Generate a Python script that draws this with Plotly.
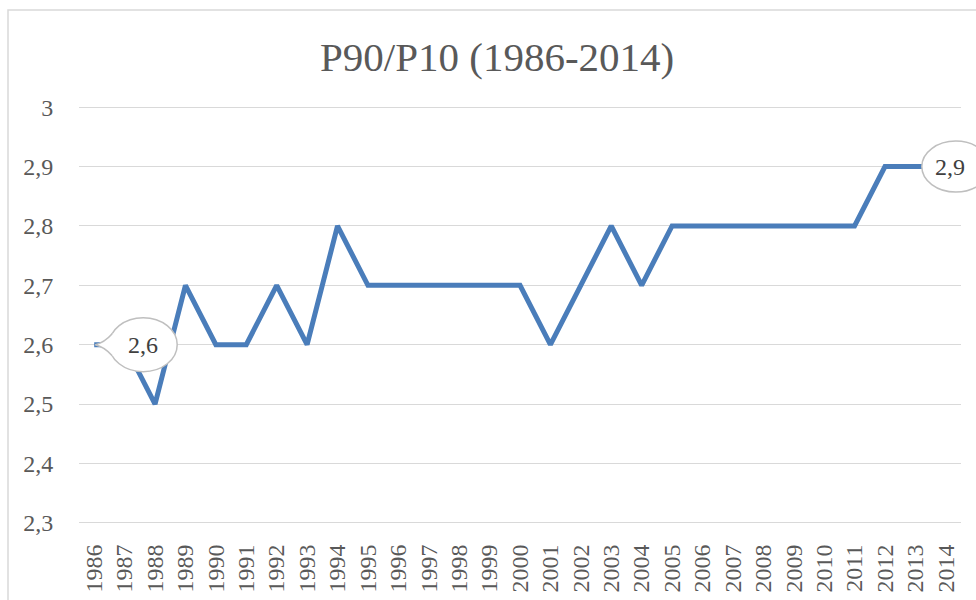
import plotly.graph_objects as go

years = list(range(1986, 2015))
values = [2.6, 2.6, 2.5, 2.7, 2.6, 2.6, 2.7, 2.6, 2.8, 2.7,
          2.7, 2.7, 2.7, 2.7, 2.7, 2.6, 2.7, 2.8, 2.7, 2.8,
          2.8, 2.8, 2.8, 2.8, 2.8, 2.8, 2.9, 2.9, 2.9]
y_ticks = [2.3, 2.4, 2.5, 2.6, 2.7, 2.8, 2.9, 3.0]
y_tick_labels = ["2,3", "2,4", "2,5", "2,6", "2,7", "2,8", "2,9", "3"]
title = "P90/P10 (1986-2014)"

LINE = "#4A7DBA"
GRID = "#D9D9D9"
TXT = "#595959"
FONT = "Liberation Serif, Times New Roman, serif"

x0r, x1r = years[0] - 0.5, years[-1] + 0.5
y0r, y1r = 2.298, 3.002
PT, PB = 106, 76   # plot area top/bottom margins (px)
PL, PR = 79, 15
PH = 600 - PT - PB
PW = 976 - PL - PR


def frac(yr):
    return (yr - x0r) / (x1r - x0r)


fig = go.Figure()
fig.add_trace(go.Scatter(x=years, y=values, mode="lines",
                         line=dict(color=LINE, width=5),
                         hoverinfo="skip", showlegend=False))

shapes = []
annotations = []

# Callout for first point (with tail pointing left to the point)
first_i = 0
shapes.append(dict(type="circle", xref="paper", yref="y",
                   xsizemode="pixel", ysizemode="pixel",
                   xanchor=frac(years[first_i]), yanchor=values[first_i],
                   x0=15, x1=83, y0=-27, y1=27,
                   fillcolor="white", line=dict(color="#BFBFBF", width=1.5)))
shapes.append(dict(type="path", xref="paper", yref="y",
                   xsizemode="pixel", ysizemode="pixel",
                   xanchor=frac(years[first_i]), yanchor=values[first_i],
                   path="M 27,11 L 18,11 Q 10,2 1,0 Q 10,-2 18,-11 L 27,-11 Z",
                   fillcolor="white", line=dict(width=0)))
shapes.append(dict(type="path", xref="paper", yref="y",
                   xsizemode="pixel", ysizemode="pixel",
                   xanchor=frac(years[first_i]), yanchor=values[first_i],
                   path="M 18,11 Q 10,2 1,0 Q 10,-2 18,-11",
                   fillcolor="rgba(0,0,0,0)", line=dict(color="#BFBFBF", width=1.5)))
annotations.append(dict(x=frac(years[first_i]), y=values[first_i], xref="paper", yref="y",
                        text="2,6", showarrow=False, xanchor="center", yanchor="middle",
                        xshift=49, yshift=0,
                        font=dict(family=FONT, size=24, color="#404040")))

# Callout for last point
last_i = len(years) - 1
shapes.append(dict(type="circle", xref="paper", yref="y",
                   xsizemode="pixel", ysizemode="pixel",
                   xanchor=frac(years[last_i]), yanchor=values[last_i],
                   x0=-24, x1=44, y0=-25.5, y1=25.5,
                   fillcolor="white", line=dict(color="#BFBFBF", width=1.5)))
annotations.append(dict(x=frac(years[last_i]), y=values[last_i], xref="paper", yref="y",
                        text="2,9", showarrow=False, xanchor="center", yanchor="middle",
                        xshift=4, yshift=0,
                        font=dict(family=FONT, size=24, color="#404040")))

# chart border
shapes.append(dict(type="rect", xref="paper", yref="paper",
                   x0=(8 - PL) / PW, x1=1.2, y0=-0.4, y1=(600 - PB - 10) / PH,
                   fillcolor="rgba(0,0,0,0)", line=dict(color=GRID, width=1.5),
                   layer="below"))

annotations.append(dict(x=(497 - PL) / PW, y=(600 - PB - 57) / PH, xref="paper", yref="paper",
                        text=title, showarrow=False, xanchor="center", yanchor="middle",
                        font=dict(family=FONT, size=41, color=TXT)))

fig.update_layout(
    width=976, height=600,
    margin=dict(l=PL, r=PR, t=PT, b=PB, autoexpand=False),
    paper_bgcolor="white", plot_bgcolor="white",
    shapes=shapes, annotations=annotations,
    xaxis=dict(range=[x0r, x1r], tickmode="array", tickvals=years,
               ticktext=[str(y) for y in years], tickangle=-90,
               showgrid=False, zeroline=False, automargin=False,
               showline=False,
               ticks="outside", ticklen=10, tickcolor="rgba(0,0,0,0)",
               tickfont=dict(family=FONT, size=24, color=TXT), fixedrange=True),
    yaxis=dict(range=[y0r, y1r], tickmode="array", tickvals=y_ticks,
               ticktext=y_tick_labels, showgrid=True, gridcolor=GRID, gridwidth=1.3,
               zeroline=False, showline=False, automargin=False,
               ticks="outside", ticklen=20, tickcolor="rgba(0,0,0,0)",
               tickfont=dict(family=FONT, size=24, color=TXT), fixedrange=True),
)

fig.write_html("out.html", config={"displayModeBar": False},
               post_script="document.body.style.margin='0px';document.body.style.overflow='hidden';")
